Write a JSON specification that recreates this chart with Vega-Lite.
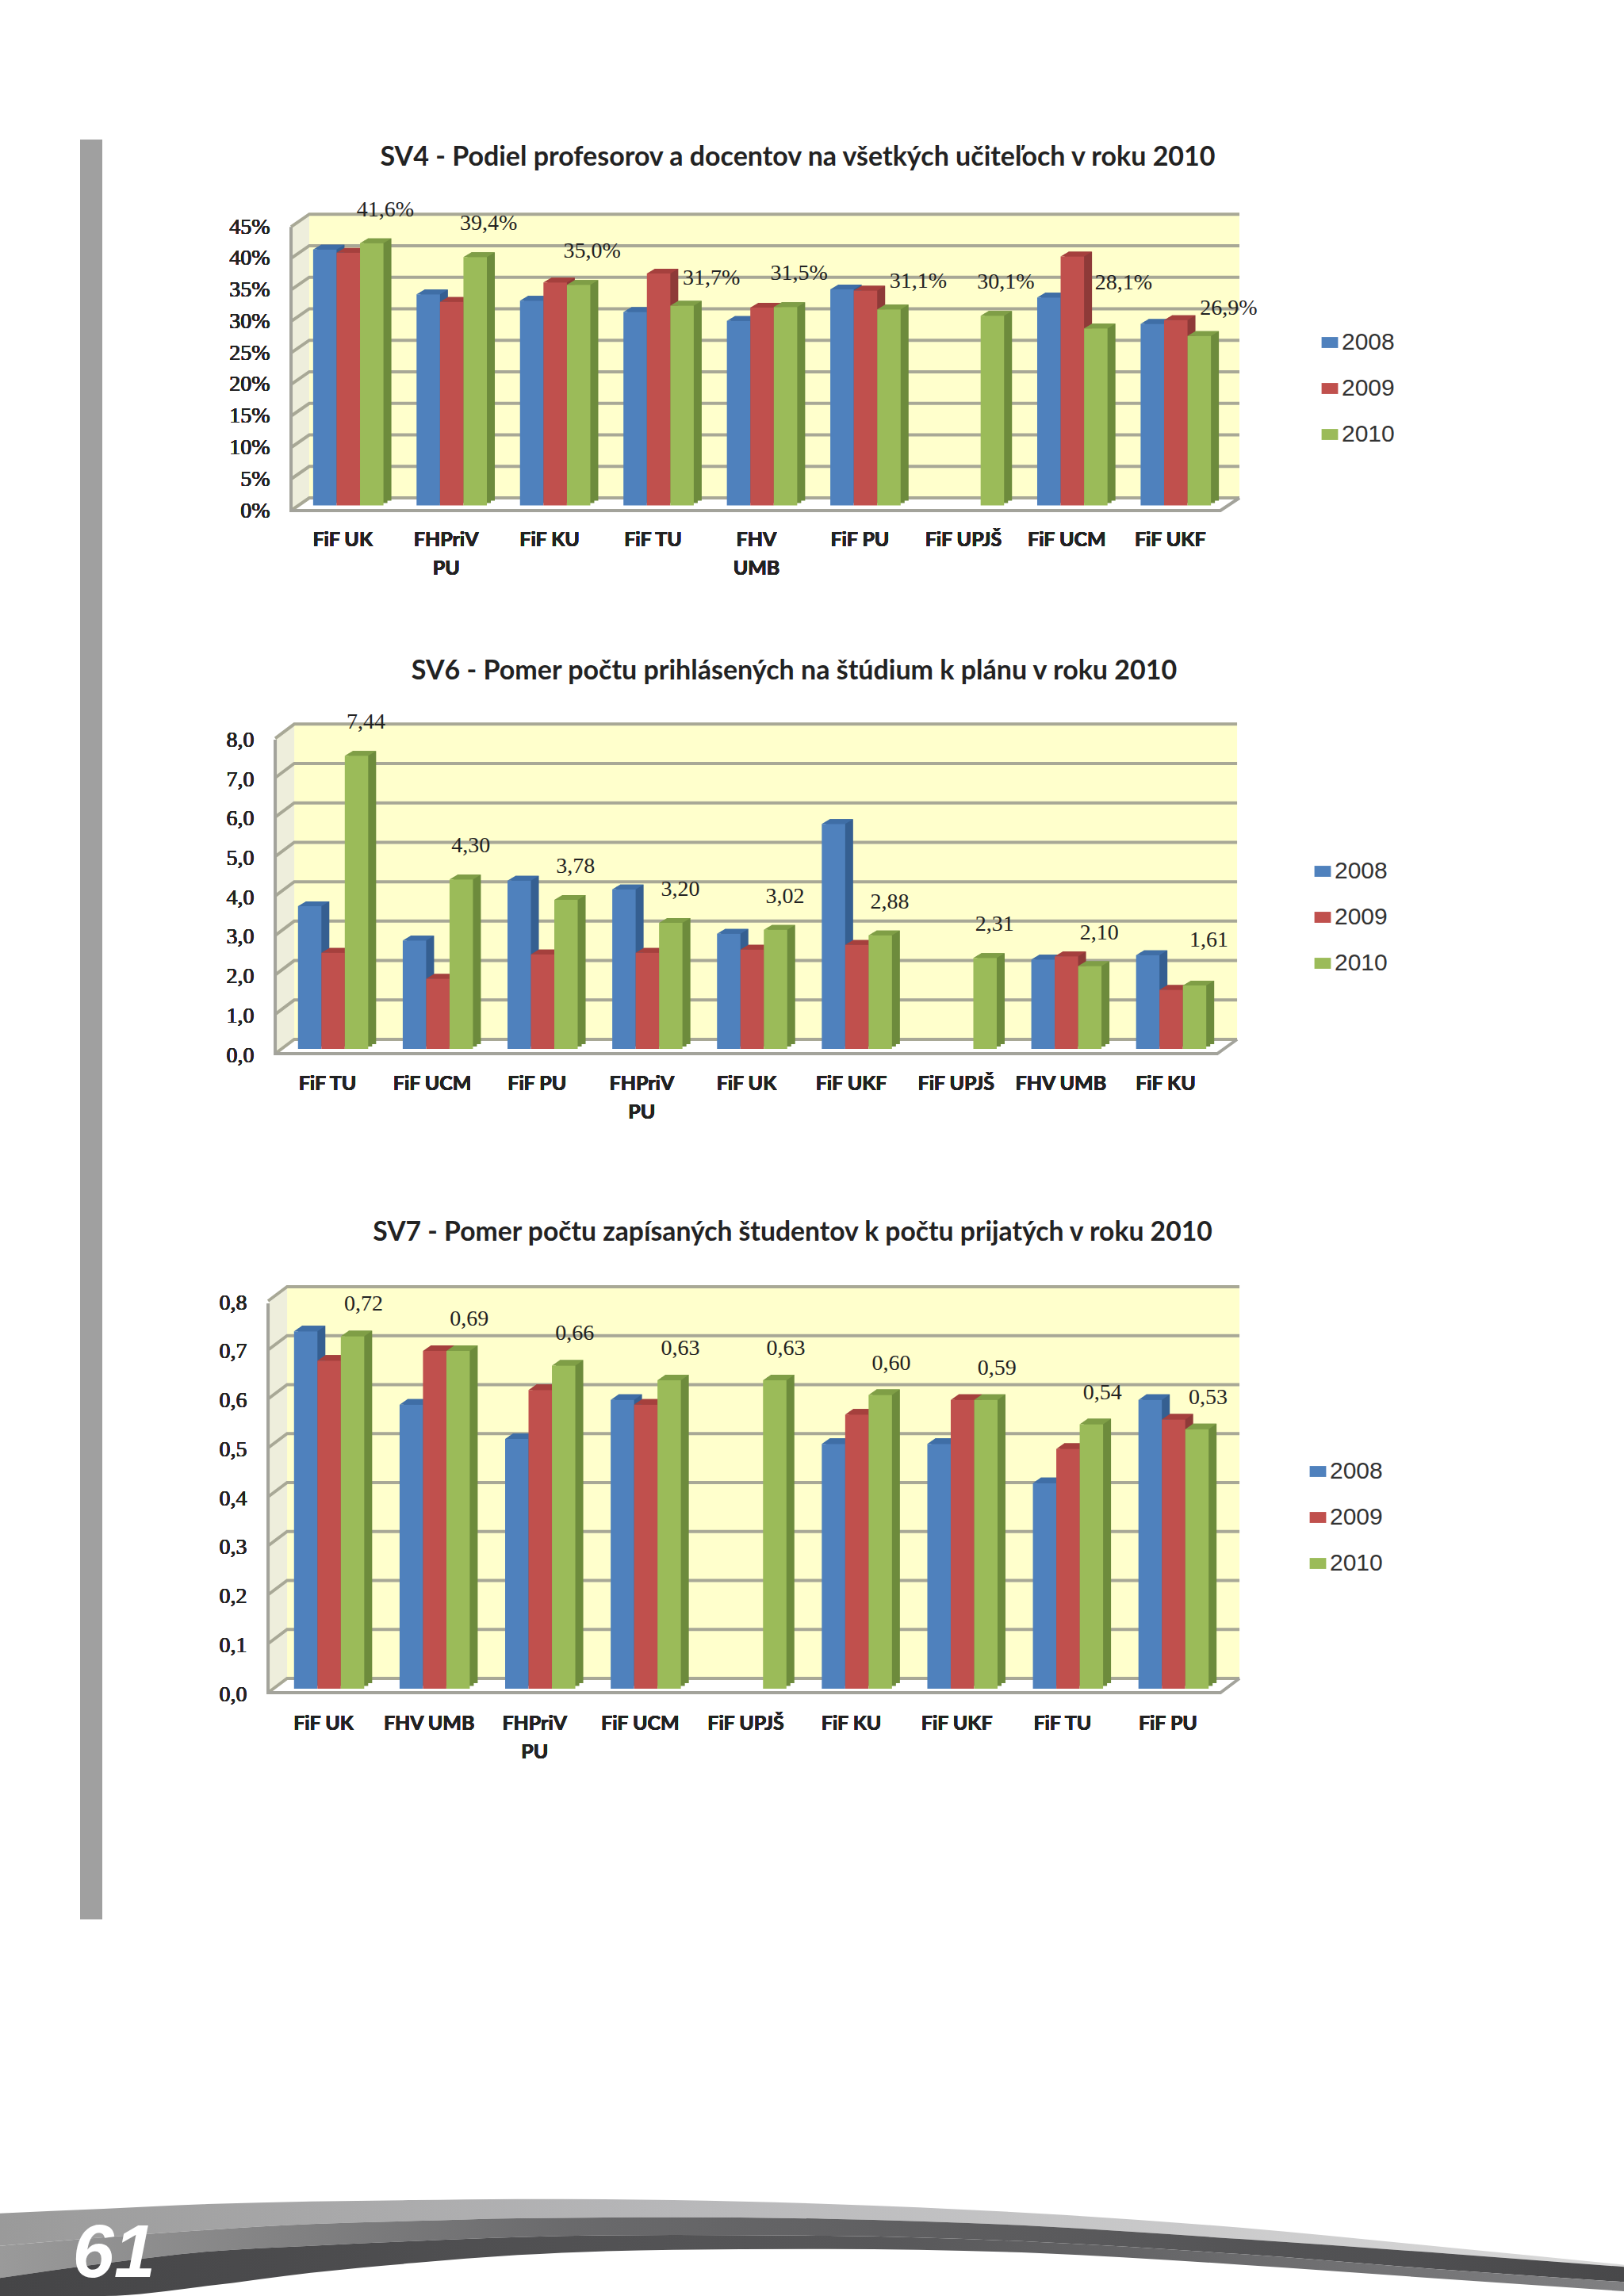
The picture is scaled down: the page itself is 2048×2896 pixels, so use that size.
{"$schema":"https://vega.github.io/schema/vega-lite/v6.json","width":2048,"height":2896,"padding":0,"autosize":{"type":"none"},"background":"white","config":{"view":{"stroke":null},"axis":{"labelColor":"#222"}},
"datasets":{
"sv4":[{"faculty":"FiF UK","year":"2008","value":40.6},{"faculty":"FiF UK","year":"2009","value":40.1},{"faculty":"FiF UK","year":"2010","value":41.6,"label":"41,6%"},{"faculty":"FHPriV PU","year":"2008","value":33.5},{"faculty":"FHPriV PU","year":"2009","value":32.3},{"faculty":"FHPriV PU","year":"2010","value":39.4,"label":"39,4%"},{"faculty":"FiF KU","year":"2008","value":32.5},{"faculty":"FiF KU","year":"2009","value":35.4},{"faculty":"FiF KU","year":"2010","value":35.0,"label":"35,0%"},{"faculty":"FiF TU","year":"2008","value":30.7},{"faculty":"FiF TU","year":"2009","value":36.8},{"faculty":"FiF TU","year":"2010","value":31.7,"label":"31,7%"},{"faculty":"FHV UMB","year":"2008","value":29.3},{"faculty":"FHV UMB","year":"2009","value":31.4},{"faculty":"FHV UMB","year":"2010","value":31.5,"label":"31,5%"},{"faculty":"FiF PU","year":"2008","value":34.3},{"faculty":"FiF PU","year":"2009","value":34.1},{"faculty":"FiF PU","year":"2010","value":31.1,"label":"31,1%"},{"faculty":"FiF UPJŠ","year":"2010","value":30.1,"label":"30,1%"},{"faculty":"FiF UCM","year":"2008","value":33.0},{"faculty":"FiF UCM","year":"2009","value":39.5},{"faculty":"FiF UCM","year":"2010","value":28.1,"label":"28,1%"},{"faculty":"FiF UKF","year":"2008","value":28.8},{"faculty":"FiF UKF","year":"2009","value":29.4},{"faculty":"FiF UKF","year":"2010","value":26.9,"label":"26,9%"}],
"sv6":[{"faculty":"FiF TU","year":"2008","value":3.62},{"faculty":"FiF TU","year":"2009","value":2.44},{"faculty":"FiF TU","year":"2010","value":7.44,"label":"7,44"},{"faculty":"FiF UCM","year":"2008","value":2.75},{"faculty":"FiF UCM","year":"2009","value":1.78},{"faculty":"FiF UCM","year":"2010","value":4.30,"label":"4,30"},{"faculty":"FiF PU","year":"2008","value":4.27},{"faculty":"FiF PU","year":"2009","value":2.40},{"faculty":"FiF PU","year":"2010","value":3.78,"label":"3,78"},{"faculty":"FHPriV PU","year":"2008","value":4.05},{"faculty":"FHPriV PU","year":"2009","value":2.44},{"faculty":"FHPriV PU","year":"2010","value":3.20,"label":"3,20"},{"faculty":"FiF UK","year":"2008","value":2.92},{"faculty":"FiF UK","year":"2009","value":2.52},{"faculty":"FiF UK","year":"2010","value":3.02,"label":"3,02"},{"faculty":"FiF UKF","year":"2008","value":5.71},{"faculty":"FiF UKF","year":"2009","value":2.64},{"faculty":"FiF UKF","year":"2010","value":2.88,"label":"2,88"},{"faculty":"FiF UPJŠ","year":"2010","value":2.31,"label":"2,31"},{"faculty":"FHV UMB","year":"2008","value":2.27},{"faculty":"FHV UMB","year":"2009","value":2.35},{"faculty":"FHV UMB","year":"2010","value":2.10,"label":"2,10"},{"faculty":"FiF KU","year":"2008","value":2.38},{"faculty":"FiF KU","year":"2009","value":1.50},{"faculty":"FiF KU","year":"2010","value":1.61,"label":"1,61"}],
"sv7":[{"faculty":"FiF UK","year":"2008","value":0.73},{"faculty":"FiF UK","year":"2009","value":0.67},{"faculty":"FiF UK","year":"2010","value":0.72,"label":"0,72"},{"faculty":"FHV UMB","year":"2008","value":0.58},{"faculty":"FHV UMB","year":"2009","value":0.69},{"faculty":"FHV UMB","year":"2010","value":0.69,"label":"0,69"},{"faculty":"FHPriV PU","year":"2008","value":0.51},{"faculty":"FHPriV PU","year":"2009","value":0.61},{"faculty":"FHPriV PU","year":"2010","value":0.66,"label":"0,66"},{"faculty":"FiF UCM","year":"2008","value":0.59},{"faculty":"FiF UCM","year":"2009","value":0.58},{"faculty":"FiF UCM","year":"2010","value":0.63,"label":"0,63"},{"faculty":"FiF UPJŠ","year":"2010","value":0.63,"label":"0,63"},{"faculty":"FiF KU","year":"2008","value":0.50},{"faculty":"FiF KU","year":"2009","value":0.56},{"faculty":"FiF KU","year":"2010","value":0.60,"label":"0,60"},{"faculty":"FiF UKF","year":"2008","value":0.50},{"faculty":"FiF UKF","year":"2009","value":0.59},{"faculty":"FiF UKF","year":"2010","value":0.59,"label":"0,59"},{"faculty":"FiF TU","year":"2008","value":0.42},{"faculty":"FiF TU","year":"2009","value":0.49},{"faculty":"FiF TU","year":"2010","value":0.54,"label":"0,54"},{"faculty":"FiF PU","year":"2008","value":0.59},{"faculty":"FiF PU","year":"2009","value":0.55},{"faculty":"FiF PU","year":"2010","value":0.53,"label":"0,53"}],
"swoosh":[{"x":0,"a":313,"b":190,"c":68,"d":0},{"x":100,"a":330,"b":222,"c":123,"d":0},{"x":200,"a":348,"b":250,"c":168,"d":38},{"x":300,"a":358,"b":272,"c":190,"d":88},{"x":400,"a":363,"b":284,"c":208,"d":125},{"x":500,"a":367,"b":294,"c":223,"d":155},{"x":650,"a":363,"b":298,"c":231,"d":175},{"x":800,"a":348,"b":292,"c":228,"d":178},{"x":1000,"a":313,"b":265,"c":205,"d":163},{"x":1200,"a":258,"b":215,"c":158,"d":118},{"x":1400,"a":183,"b":160,"c":98,"d":63},{"x":1568,"a":118,"b":110,"c":53,"d":18}]
},
"layer":[
{"data":{"values":[{}]},"mark":{"type":"rect","color":"#A0A0A0"},"encoding":{"x":{"datum":0,"type":"quantitative","scale":{"domain":[0,1],"range":[101,129]},"axis":null},"x2":{"datum":1},"y":{"datum":0,"type":"quantitative","scale":{"domain":[0,1],"range":[176,2421]},"axis":null},"y2":{"datum":1}}},

{"data":{"name":"sv4"},
"encoding":{
"x":{"field":"faculty","type":"nominal","title":null,"sort":null,"scale":{"domain":["FiF UK","FHPriV PU","FiF KU","FiF TU","FHV UMB","FiF PU","FiF UPJŠ","FiF UCM","FiF UKF"],"range":[374,1548],"paddingInner":0.32,"paddingOuter":0.16},"axis":{"orient":"bottom","offset":-2258.4,"domain":false,"ticks":false,"labelAngle":0,"labelPadding":31,"labelOffset":-7,"labelFont":"Lato","labelFontWeight":"bold","labelFontSize":25,"labelLimit":0,"labelLineHeight":36,"labelOverlap":false,"labelBaseline":"top","labelExpr":"datum.value=='FHPriV PU'?['FHPriV','PU']:datum.value=='FHV UMB'?['FHV','UMB']:datum.value"}},
"y":{"field":"value","type":"quantitative","title":null,"stack":null,"scale":{"domain":[0,45],"range":[637.6,279.8],"nice":false},"axis":{"orient":"left","offset":-367,"domain":false,"ticks":false,"grid":false,"values":[0,5,10,15,20,25,30,35,40,45],"labelPadding":27,"labelOffset":6.4,"labelFont":"Liberation Serif","labelFontWeight":400,"labelFontSize":28,"labelExpr":"datum.value+'%'"}}},
"layer":[
{"data":{"values":[{"faculty":"FiF UK","value":0}]},"mark":{"type":"point","filled":true,"opacity":1,"size":4,"fill":"#FFFFCC","shape":"M-49.2,-9.6H1123.8V-369H-49.2Z"}},
{"data":{"values":[{"faculty":"FiF UK","value":0}]},"mark":{"type":"point","filled":true,"opacity":1,"size":4,"fill":"#EEEEDC","shape":"M-72.2,6.4L-49.2,-9.6V-367.4L-72.2,-351.4Z"}},
{"data":{"values":[{"faculty":"FiF UK","value":0},{"faculty":"FiF UK","value":5},{"faculty":"FiF UK","value":10},{"faculty":"FiF UK","value":15},{"faculty":"FiF UK","value":20},{"faculty":"FiF UK","value":25},{"faculty":"FiF UK","value":30},{"faculty":"FiF UK","value":35},{"faculty":"FiF UK","value":40},{"faculty":"FiF UK","value":45}]},"mark":{"type":"point","filled":false,"opacity":1,"size":4,"stroke":"#A8A896","strokeWidth":4,"shape":"M-72.2,6.4L-49.2,-9.6H1123.8"}},
{"data":{"values":[{"faculty":"FiF UK","value":0}]},"mark":{"type":"point","filled":false,"opacity":1,"size":4,"stroke":"#A3A39B","strokeWidth":4,"shape":"M-72.2,-351.4V6.4H1099.8L1123.8,-9.6"}},
{"encoding":{"xOffset":{"field":"year","type":"nominal","scale":{"domain":["2008","2009","2010"]}}},"resolve":{"scale":{"color":"independent"}},"layer":[
{"encoding":{"color":{"field":"year","type":"nominal","legend":null,"scale":{"domain":["2008","2009","2010"],"range":["#355F91","#8E3A38","#6D8B3C"]}}},"resolve":{"scale":{"x":"independent","y":"independent","xOffset":"independent","color":"independent"}},"layer":[
{"mark":{"type":"bar"},"encoding":{"x":{"field":"faculty","type":"nominal","axis":null,"sort":null,"scale":{"domain":["FiF UK","FHPriV PU","FiF KU","FiF TU","FHV UMB","FiF PU","FiF UPJŠ","FiF UCM","FiF UKF"],"range":[379,1553],"paddingInner":0.32,"paddingOuter":0.16}},"y":{"field":"value","type":"quantitative","axis":null,"stack":null,"scale":{"domain":[0,45],"range":[634.6,276.8],"nice":false}}}},
{"mark":{"type":"bar"},"encoding":{"x":{"field":"faculty","type":"nominal","axis":null,"sort":null,"scale":{"domain":["FiF UK","FHPriV PU","FiF KU","FiF TU","FHV UMB","FiF PU","FiF UPJŠ","FiF UCM","FiF UKF"],"range":[384,1558],"paddingInner":0.32,"paddingOuter":0.16}},"y":{"field":"value","type":"quantitative","axis":null,"stack":null,"scale":{"domain":[0,45],"range":[631.6,273.8],"nice":false}}}}]},
{"mark":{"type":"point","filled":true,"opacity":1,"size":4,"shape":"M-14.8,0L-4.8,-6H24.8L14.8,0Z"},"encoding":{"color":{"field":"year","type":"nominal","legend":null,"scale":{"domain":["2008","2009","2010"],"range":["#3F6EA6","#A5403D","#7F9E46"]}}}},
{"mark":{"type":"bar"},"encoding":{"color":{"field":"year","type":"nominal","scale":{"domain":["2008","2009","2010"],"range":["#4F81BD","#C0504D","#9BBB59"]},"legend":{"title":null,"orient":"none","legendX":1662,"legendY":417,"padding":0,"symbolType":"M-1.2,-0.8H1.2V0.8H-1.2Z","symbolSize":300,"symbolStrokeWidth":0,"labelFont":"Liberation Sans","labelFontSize":30,"labelColor":"#333","rowPadding":28,"labelOffset":0}}}},
{"transform":[{"filter":"indexof(['FiF UK','FHPriV PU','FiF KU','FHV UMB','FiF UPJŠ'],datum.faculty)>=0 && datum.label"}],"mark":{"type":"text","font":"Liberation Serif","fontSize":28,"color":"#222","baseline":"middle","dx":17,"dy":-42},"encoding":{"text":{"field":"label"}}},
{"transform":[{"filter":"indexof(['FiF TU','FiF PU','FiF UKF'],datum.faculty)>=0 && datum.label"}],"mark":{"type":"text","font":"Liberation Serif","fontSize":28,"color":"#222","baseline":"middle","dx":37,"dy":-35},"encoding":{"text":{"field":"label"}}},
{"transform":[{"filter":"datum.faculty=='FiF UCM' && datum.label"}],"mark":{"type":"text","font":"Liberation Serif","fontSize":28,"color":"#222","baseline":"middle","dx":35,"dy":-57},"encoding":{"text":{"field":"label"}}}
]},
{"data":{"values":[{"faculty":"FHV UMB","value":45,"title":"SV4 - Podiel profesorov a docentov na všetkých učiteľoch v roku 2010"}]},"mark":{"type":"text","font":"Lato","fontWeight":"bold","fontSize":34,"color":"#222","baseline":"middle","dx":45,"dy":-81},"encoding":{"text":{"field":"title"}}}
]},

{"data":{"name":"sv6"},
"encoding":{
"x":{"field":"faculty","type":"nominal","title":null,"sort":null,"scale":{"domain":["FiF TU","FiF UCM","FiF PU","FHPriV PU","FiF UK","FiF UKF","FiF UPJŠ","FHV UMB","FiF KU"],"range":[354,1543],"paddingInner":0.33,"paddingOuter":0.165},"axis":{"orient":"bottom","offset":-1573,"domain":false,"ticks":false,"labelAngle":0,"labelPadding":31,"labelOffset":-7,"labelFont":"Lato","labelFontWeight":"bold","labelFontSize":25,"labelLimit":0,"labelLineHeight":36,"labelOverlap":false,"labelBaseline":"top","labelExpr":"datum.value=='FHPriV PU'?['FHPriV','PU']:datum.value"}},
"y":{"field":"value","type":"quantitative","title":null,"stack":null,"scale":{"domain":[0,8],"range":[1323,925.3],"nice":false},"axis":{"orient":"left","offset":-347,"domain":false,"ticks":false,"grid":false,"values":[0,1,2,3,4,5,6,7,8],"labelPadding":27,"labelOffset":8,"labelFont":"Liberation Serif","labelFontWeight":400,"labelFontSize":28,"labelExpr":"replace(format(datum.value,'.1f'),'.',',')"}}},
"layer":[
{"data":{"values":[{"faculty":"FiF TU","value":0}]},"mark":{"type":"point","filled":true,"opacity":1,"size":4,"fill":"#FFFFCC","shape":"M-49,-12H1140V-408H-49Z"}},
{"data":{"values":[{"faculty":"FiF TU","value":0}]},"mark":{"type":"point","filled":true,"opacity":1,"size":4,"fill":"#EEEEDC","shape":"M-73,6L-49,-12V-408L-73,-390Z"}},
{"data":{"values":[{"faculty":"FiF TU","value":0},{"faculty":"FiF TU","value":1},{"faculty":"FiF TU","value":2},{"faculty":"FiF TU","value":3},{"faculty":"FiF TU","value":4},{"faculty":"FiF TU","value":5},{"faculty":"FiF TU","value":6},{"faculty":"FiF TU","value":7},{"faculty":"FiF TU","value":8}]},"mark":{"type":"point","filled":false,"opacity":1,"size":4,"stroke":"#A8A896","strokeWidth":4,"shape":"M-73,6L-49,-12H1140"}},
{"data":{"values":[{"faculty":"FiF TU","value":0}]},"mark":{"type":"point","filled":false,"opacity":1,"size":4,"stroke":"#A3A39B","strokeWidth":4,"shape":"M-73,-390V6H1115L1140,-12"}},
{"encoding":{"xOffset":{"field":"year","type":"nominal","scale":{"domain":["2008","2009","2010"]}}},"resolve":{"scale":{"color":"independent"}},"layer":[
{"encoding":{"color":{"field":"year","type":"nominal","legend":null,"scale":{"domain":["2008","2009","2010"],"range":["#355F91","#8E3A38","#6D8B3C"]}}},"resolve":{"scale":{"x":"independent","y":"independent","xOffset":"independent","color":"independent"}},"layer":[
{"mark":{"type":"bar"},"encoding":{"x":{"field":"faculty","type":"nominal","axis":null,"sort":null,"scale":{"domain":["FiF TU","FiF UCM","FiF PU","FHPriV PU","FiF UK","FiF UKF","FiF UPJŠ","FHV UMB","FiF KU"],"range":[359,1548],"paddingInner":0.33,"paddingOuter":0.165}},"y":{"field":"value","type":"quantitative","axis":null,"stack":null,"scale":{"domain":[0,8],"range":[1320,922.3],"nice":false}}}},
{"mark":{"type":"bar"},"encoding":{"x":{"field":"faculty","type":"nominal","axis":null,"sort":null,"scale":{"domain":["FiF TU","FiF UCM","FiF PU","FHPriV PU","FiF UK","FiF UKF","FiF UPJŠ","FHV UMB","FiF KU"],"range":[364,1553],"paddingInner":0.33,"paddingOuter":0.165}},"y":{"field":"value","type":"quantitative","axis":null,"stack":null,"scale":{"domain":[0,8],"range":[1317,919.3],"nice":false}}}}]},
{"mark":{"type":"point","filled":true,"opacity":1,"size":4,"shape":"M-14.75,0L-4.75,-6H24.75L14.75,0Z"},"encoding":{"color":{"field":"year","type":"nominal","legend":null,"scale":{"domain":["2008","2009","2010"],"range":["#3F6EA6","#A5403D","#7F9E46"]}}}},
{"mark":{"type":"bar"},"encoding":{"color":{"field":"year","type":"nominal","scale":{"domain":["2008","2009","2010"],"range":["#4F81BD","#C0504D","#9BBB59"]},"legend":{"title":null,"orient":"none","legendX":1653,"legendY":1084,"padding":0,"symbolType":"M-1.2,-0.8H1.2V0.8H-1.2Z","symbolSize":300,"symbolStrokeWidth":0,"labelFont":"Liberation Sans","labelFontSize":30,"labelColor":"#333","rowPadding":28,"labelOffset":0}}}},
{"transform":[{"filter":"datum.faculty!='FiF KU' && datum.label"}],"mark":{"type":"text","font":"Liberation Serif","fontSize":28,"color":"#222","baseline":"middle","dx":12,"dy":-42},"encoding":{"text":{"field":"label"}}},
{"transform":[{"filter":"datum.faculty=='FiF KU' && datum.label"}],"mark":{"type":"text","font":"Liberation Serif","fontSize":28,"color":"#222","baseline":"middle","dx":18,"dy":-57},"encoding":{"text":{"field":"label"}}}
]},
{"data":{"values":[{"faculty":"FiF UK","value":8,"title":"SV6 - Pomer počtu prihlásených na štúdium k plánu v roku 2010"}]},"mark":{"type":"text","font":"Lato","fontWeight":"bold","fontSize":34,"color":"#222","baseline":"middle","dx":53,"dy":-78},"encoding":{"text":{"field":"title"}}}
]},

{"data":{"name":"sv7"},
"encoding":{
"x":{"field":"faculty","type":"nominal","title":null,"sort":null,"scale":{"domain":["FiF UK","FHV UMB","FHPriV PU","FiF UCM","FiF UPJŠ","FiF KU","FiF UKF","FiF TU","FiF PU"],"range":[348.5,1546.5],"paddingInner":0.335,"paddingOuter":0.1675},"axis":{"orient":"bottom","offset":-766,"domain":false,"ticks":false,"labelAngle":0,"labelPadding":31,"labelOffset":-7,"labelFont":"Lato","labelFontWeight":"bold","labelFontSize":25,"labelLimit":0,"labelLineHeight":36,"labelOverlap":false,"labelBaseline":"top","labelExpr":"datum.value=='FHPriV PU'?['FHPriV','PU']:datum.value"}},
"y":{"field":"value","type":"quantitative","title":null,"stack":null,"scale":{"domain":[0,0.8],"range":[2130,1636],"nice":false},"axis":{"orient":"left","offset":-338,"domain":false,"ticks":false,"grid":false,"values":[0,0.1,0.2,0.3,0.4,0.5,0.6,0.7,0.8],"labelPadding":27,"labelOffset":7,"labelFont":"Liberation Serif","labelFontWeight":400,"labelFontSize":28,"labelExpr":"replace(format(datum.value,'.1f'),'.',',')"}}},
"layer":[
{"data":{"values":[{"faculty":"FiF UK","value":0}]},"mark":{"type":"point","filled":true,"opacity":1,"size":4,"fill":"#FFFFCC","shape":"M-53,-13H1148V-505H-53Z"}},
{"data":{"values":[{"faculty":"FiF UK","value":0}]},"mark":{"type":"point","filled":true,"opacity":1,"size":4,"fill":"#EEEEDC","shape":"M-77,5L-53,-13V-505L-77,-486Z"}},
{"data":{"values":[{"faculty":"FiF UK","value":0},{"faculty":"FiF UK","value":0.1},{"faculty":"FiF UK","value":0.2},{"faculty":"FiF UK","value":0.3},{"faculty":"FiF UK","value":0.4},{"faculty":"FiF UK","value":0.5},{"faculty":"FiF UK","value":0.6},{"faculty":"FiF UK","value":0.7},{"faculty":"FiF UK","value":0.8}]},"mark":{"type":"point","filled":false,"opacity":1,"size":4,"stroke":"#A8A896","strokeWidth":4,"shape":"M-77,5L-53,-13H1148"}},
{"data":{"values":[{"faculty":"FiF UK","value":0}]},"mark":{"type":"point","filled":false,"opacity":1,"size":4,"stroke":"#A3A39B","strokeWidth":4,"shape":"M-77,-486V5H1124L1148,-13"}},
{"encoding":{"xOffset":{"field":"year","type":"nominal","scale":{"domain":["2008","2009","2010"]}}},"resolve":{"scale":{"color":"independent"}},"layer":[
{"encoding":{"color":{"field":"year","type":"nominal","legend":null,"scale":{"domain":["2008","2009","2010"],"range":["#355F91","#8E3A38","#6D8B3C"]}}},"resolve":{"scale":{"x":"independent","y":"independent","xOffset":"independent","color":"independent"}},"layer":[
{"mark":{"type":"bar"},"encoding":{"x":{"field":"faculty","type":"nominal","axis":null,"sort":null,"scale":{"domain":["FiF UK","FHV UMB","FHPriV PU","FiF UCM","FiF UPJŠ","FiF KU","FiF UKF","FiF TU","FiF PU"],"range":[353.5,1551.5],"paddingInner":0.335,"paddingOuter":0.1675}},"y":{"field":"value","type":"quantitative","axis":null,"stack":null,"scale":{"domain":[0,0.8],"range":[2126.5,1632.5],"nice":false}}}},
{"mark":{"type":"bar"},"encoding":{"x":{"field":"faculty","type":"nominal","axis":null,"sort":null,"scale":{"domain":["FiF UK","FHV UMB","FHPriV PU","FiF UCM","FiF UPJŠ","FiF KU","FiF UKF","FiF TU","FiF PU"],"range":[358.5,1556.5],"paddingInner":0.335,"paddingOuter":0.1675}},"y":{"field":"value","type":"quantitative","axis":null,"stack":null,"scale":{"domain":[0,0.8],"range":[2123,1629],"nice":false}}}}]},
{"mark":{"type":"point","filled":true,"opacity":1,"size":4,"shape":"M-14.75,0L-4.75,-7H24.75L14.75,0Z"},"encoding":{"color":{"field":"year","type":"nominal","legend":null,"scale":{"domain":["2008","2009","2010"],"range":["#3F6EA6","#A5403D","#7F9E46"]}}}},
{"mark":{"type":"bar"},"encoding":{"color":{"field":"year","type":"nominal","scale":{"domain":["2008","2009","2010"],"range":["#4F81BD","#C0504D","#9BBB59"]},"legend":{"title":null,"orient":"none","legendX":1647,"legendY":1841,"padding":0,"symbolType":"M-1.2,-0.8H1.2V0.8H-1.2Z","symbolSize":300,"symbolStrokeWidth":0,"labelFont":"Liberation Sans","labelFontSize":30,"labelColor":"#333","rowPadding":28,"labelOffset":0}}}},
{"transform":[{"filter":"datum.label"}],"mark":{"type":"text","font":"Liberation Serif","fontSize":28,"color":"#222","baseline":"middle","dx":14,"dy":-40},"encoding":{"text":{"field":"label"}}}
]},
{"data":{"values":[{"faculty":"FiF UPJŠ","value":0.8,"title":"SV7 - Pomer počtu zapísaných študentov k počtu prijatých v roku 2010"}]},"mark":{"type":"text","font":"Lato","fontWeight":"bold","fontSize":33.7,"color":"#222","baseline":"middle","dx":52,"dy":-81},"encoding":{"text":{"field":"title"}}}
]},

{"data":{"name":"swoosh"},
"encoding":{"x":{"field":"x","type":"quantitative","title":null,"axis":null,"scale":{"domain":[0,1568],"range":[0,2048],"nice":false,"zero":false}},"y":{"field":"a","type":"quantitative","title":null,"axis":null,"scale":{"domain":[0,468],"range":[2896,2740],"nice":false,"zero":false}}},
"layer":[
{"mark":{"type":"area","interpolate":"monotone","color":{"gradient":"linear","x1":0,"x2":1,"y1":0,"y2":0,"stops":[{"offset":0,"color":"#9A9A9A"},{"offset":0.4,"color":"#B6B6B8"},{"offset":1,"color":"#DADADA"}]}},"encoding":{"y":{"field":"a"},"y2":{"field":"b"}}},
{"mark":{"type":"area","interpolate":"monotone","color":{"gradient":"linear","x1":0,"x2":1,"y1":0,"y2":0,"stops":[{"offset":0,"color":"#9A9A9A"},{"offset":0.35,"color":"#6A6A6C"},{"offset":1,"color":"#48484A"}]}},"encoding":{"y":{"field":"b"},"y2":{"field":"c"}}},
{"mark":{"type":"area","interpolate":"monotone","color":{"gradient":"linear","x1":0,"x2":1,"y1":0,"y2":0,"stops":[{"offset":0,"color":"#454547"},{"offset":0.55,"color":"#58585A"},{"offset":1,"color":"#808082"}]}},"encoding":{"y":{"field":"c"},"y2":{"field":"d"}}},
{"data":{"values":[{"x":110,"a":155,"t":"61"}]},"mark":{"type":"text","font":"Liberation Sans","fontWeight":"bold","fontStyle":"italic","fontSize":94,"color":"white","baseline":"middle","align":"center"},"encoding":{"text":{"field":"t"},"x":{"field":"x","type":"quantitative"},"y":{"field":"a","type":"quantitative"}}}
]}
],
"resolve":{"scale":{"x":"independent","y":"independent","xOffset":"independent","color":"independent"},"axis":{"x":"independent","y":"independent"},"legend":{"color":"independent"}}
}
